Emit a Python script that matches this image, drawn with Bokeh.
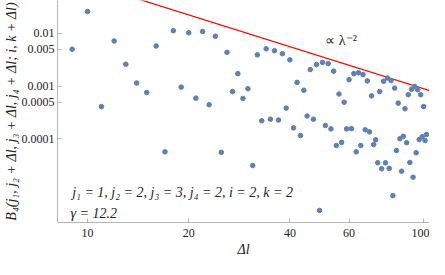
import numpy as np
from bokeh.plotting import figure
from bokeh.models import Range1d, FixedTicker, CustomJSTickFormatter, Label
from bokeh.embed import file_html
from bokeh.resources import INLINE

# ---- data ----
delta_l = list(range(9, 103))
b4 = [5.03e-3, 2.61e-2, 4.10e-4, 7.2e-3, 2.61e-3, 1.15e-3, 7.6e-4, 5.79e-3, 5.69e-5, 1.13e-2,
      9.6e-4, 1.03e-2, 5.93e-4, 1.09e-2, 4.45e-4, 8.84e-3, 5.56e-5, 4.39e-3, 7.91e-4, 1.73e-3,
      5.86e-4, 8.95e-4, 3.13e-5, 3.93e-3, 2.21e-4, 5.12e-3, 2.37e-4, 4.71e-3, 2.28e-4, 4.13e-3,
      3.84e-4, 3.16e-3, 1.62e-4, 1.18e-3, 1.16e-4, 8.38e-4, 2.72e-4, 2.07e-3, 2.37e-4, 2.57e-3,
      4.40e-6, 2.83e-3, 1.80e-4, 2.68e-3, 1.55e-4, 1.93e-3, 7.5e-5, 7.11e-4, 8.59e-5, 4.97e-4,
      1.55e-4, 1.33e-3, 1.57e-4, 1.73e-3, 5.69e-5, 1.80e-3, 7.5e-5, 1.66e-3, 1.49e-4, 1.26e-3,
      1.36e-4, 6.55e-4, 7.82e-5, 9.6e-5, 3.53e-5, 7.91e-4, 2.72e-5, 1.24e-3, 3.53e-5, 1.43e-3,
      2.76e-5, 1.28e-3, 8.38e-6, 9.2e-4, 6.03e-5, 4.77e-4, 1.01e-4, 2.44e-5, 1.12e-4, 3.73e-4,
      8.49e-5, 6.9e-4, 3.58e-5, 8.73e-4, 1.88e-5, 9.88e-4, 5.46e-5, 8.59e-4, 9.72e-5, 6.9e-4,
      1.10e-4, 4.10e-4, 9.33e-5, 1.21e-4]

x_ticks = [10, 20, 40, 60, 100]
y_ticks = [0.0001, 0.0005, 0.001, 0.005, 0.01]
guide_const = 9.0          # B ~ C * lambda^-2
x_start, x_end = 8.14, 104.1
y_start, y_end = 2.6e-6, 0.0422

x_label = "Δl"
y_label = "B₄(j₁, j₂ + Δl, j₃ + Δl, j₄ + Δl; i, k + Δl)"
param_text = "j₁ = 1,  j₂ = 2,  j₃ = 3,  j₄ = 2,  i = 2,  k = 2"
gamma_text = "γ = 12.2"
guide_text = "∝ λ⁻²"

FONT = "Liberation Serif"
DOT = "#5E81B5"
AXIS = "#b4b4b4"
TEXT = "#222222"

p = figure(width=429, height=259, x_axis_type="log", y_axis_type="log",
           x_range=Range1d(x_start, x_end), y_range=Range1d(y_start, y_end),
           output_backend="svg", toolbar_location=None,
           min_border_left=20, min_border_right=0, min_border_top=0, min_border_bottom=10)
p.outline_line_color = None
p.xgrid.grid_line_color = None
p.ygrid.grid_line_color = None
p.background_fill_color = "white"

p.xaxis.ticker = FixedTicker(ticks=x_ticks)
p.yaxis.ticker = FixedTicker(ticks=y_ticks)
p.xaxis.formatter = CustomJSTickFormatter(code="return tick.toString();")
p.yaxis.formatter = CustomJSTickFormatter(code="return tick.toString();")

p.xaxis.axis_label = x_label
p.yaxis.axis_label = y_label

for ax in (p.xaxis, p.yaxis):
    ax.axis_line_color = AXIS
    ax.major_tick_line_color = AXIS
    ax.major_tick_in = 4
    ax.major_tick_out = 0
    ax.minor_tick_line_color = None
    ax.major_label_text_font = FONT
    ax.major_label_text_font_size = "12px"
    ax.major_label_text_color = TEXT
    ax.axis_label_text_font = FONT
    ax.axis_label_text_font_size = "14px"
    ax.axis_label_text_font_style = "italic"
    ax.axis_label_text_color = TEXT

p.xaxis.major_label_standoff = 6
p.xaxis.axis_label_standoff = 2
p.yaxis.major_label_standoff = 3
p.yaxis.axis_label_standoff = 0

# guide line  ∝ λ^-2
lam = np.array([x_start, x_end])
p.line(lam, guide_const / lam ** 2, line_color="red", line_width=1.2)

# data points
p.scatter(delta_l, b4, size=4.6, fill_color=DOT, line_color=DOT)

p.add_layout(Label(x=51, y=7.5e-3, text=guide_text, text_font=FONT, text_font_size="14px",
                   text_baseline="middle", text_color=TEXT))
p.add_layout(Label(x=9.0, y=9.6e-6, text=param_text, text_font=FONT, text_font_size="14px",
                   text_font_style="italic", text_baseline="middle", text_color=TEXT))
p.add_layout(Label(x=8.9, y=3.9e-6, text=gamma_text, text_font=FONT, text_font_size="14px",
                   text_font_style="italic", text_baseline="middle", text_color=TEXT))

open("out.html", "w").write(file_html(p, INLINE))
